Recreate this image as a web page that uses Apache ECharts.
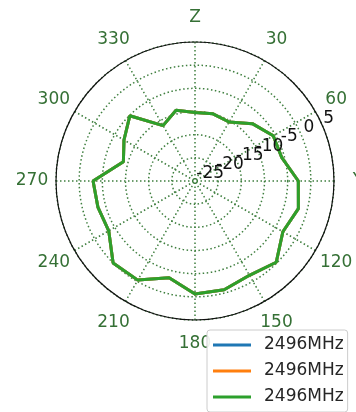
<!DOCTYPE html>
<html>
<head>
<meta charset="utf-8">
<script src="https://cdn.jsdelivr.net/npm/echarts@6/dist/echarts.min.js"></script>
<style>
html,body{margin:0;padding:0;background:#fff;}
#chart{width:356px;height:412px;}
</style>
</head>
<body>
<div id="chart"></div>
<script>
// Angles (degrees, clockwise from top) and measured gain (dB)
const angles = [0,15,30,45,60,75,90,105,120,135,150,165,180,195,210,225,240,255,270,285,300,315,330,345];
const gain = [-10.2,-10.0,-10.3,-7.5,-5.5,-5.6,-2.7,-1.9,-3.1,-0.2,-1.5,-0.7,-0.6,-3.4,-0.3,0.0,-3.5,-3.3,-3.0,-9.0,-7.3,-5.1,-11.2,-9.2];
const seriesNames = ['s1','s2','s3'];
const legendLabels = ['2496MHz','2496MHz','2496MHz'];
const seriesColors = ['#1f77b4','#ff7f0e','#2ca02c'];
const angleTicks = [0,30,60,90,120,150,180,210,240,270,300,330];
const angleTickLabels = ['Z','30','60','Y','120','150','180','210','240','270','300','330'];
const radiusTicks = [-25,-20,-15,-10,-5,0,5];
const radiusTickLabels = ['-25','-20','-15','-10','-5','0','5'];
const rMin = -25, rMax = 5, rStep = 5;
const radialLabelAngle = 65;

const pts = angles.map((a,i)=>[gain[i], a]);
pts.push([gain[0], 360]);

const gridColor = '#3f7f3f';
const font = 'DejaVu Sans';
const hiddenAngle = (idx)=>({polarIndex:idx, type:'value', min:0, max:360, startAngle:90, clockwise:true,
  axisLine:{show:false}, axisTick:{show:false}, axisLabel:{show:false}, splitLine:{show:false}});
const hiddenRadius = (idx,mn,mx)=>({polarIndex:idx, type:'value', min:mn, max:mx,
  axisLine:{show:false}, axisTick:{show:false}, axisLabel:{show:false}, splitLine:{show:false}});

const chart = echarts.init(document.getElementById('chart'), null, {renderer:'canvas'});
chart.setOption({
  backgroundColor:'#fff',
  animation:false,
  polar:[
    {center:[195,181], radius:139},
    {center:[195,181], radius:[16.8,147.6]},
    {center:[195,181], radius:163}
  ],
  angleAxis:[
    {
      polarIndex:0, type:'value', min:0, max:360, interval:30,
      startAngle:90, clockwise:true,
      axisLine:{show:true, lineStyle:{color:'#111', width:1.2}},
      axisTick:{show:false},
      axisLabel:{show:false},
      splitLine:{show:true, lineStyle:{color:gridColor, width:1.5, type:[1.5,2.5]}}
    },
    hiddenAngle(1),
    hiddenAngle(2)
  ],
  radiusAxis:[
    {
      polarIndex:0, type:'value', min:rMin, max:rMax, interval:rStep,
      axisLine:{show:false}, axisTick:{show:false}, axisLabel:{show:false},
      splitLine:{show:true, lineStyle:{color:gridColor, width:1.5, type:[1.5,2.5]}}
    },
    hiddenRadius(1, rMin, rMax),
    hiddenRadius(2, 0, 1)
  ],
  legend:{
    orient:'vertical', left:207, top:330,
    data:seriesNames,
    icon:'rect', itemWidth:38, itemHeight:3, itemGap:6,
    padding:[5,4,5,6],
    backgroundColor:'rgba(255,255,255,0.9)',
    borderColor:'#cccccc', borderWidth:1, borderRadius:3,
    textStyle:{color:'#262626', fontSize:17, fontFamily:font, lineHeight:20, padding:[0,0,0,8]},
    formatter:name=> legendLabels[seriesNames.indexOf(name)]
  },
  series: seriesNames.map((n,i)=>({
    name:n, type:'line', coordinateSystem:'polar', polarIndex:0,
    data:pts, showSymbol:false, symbol:'none',
    lineStyle:{color:seriesColors[i], width:3},
    itemStyle:{color:seriesColors[i]},
    z:2+i
  })).concat([
    {
      type:'scatter', coordinateSystem:'polar', polarIndex:1, symbolSize:0, silent:true,
      data: radiusTicks.map((v,i)=>({value:[v, radialLabelAngle], label:{formatter:radiusTickLabels[i]}})),
      label:{show:true, position:'inside', align:'center', verticalAlign:'middle',
        color:'#111111', textBorderWidth:0, opacity:1, fontSize:17, fontFamily:font},
      z:5
    },
    {
      type:'scatter', coordinateSystem:'polar', polarIndex:2, symbolSize:0, silent:true,
      data: angleTicks.map((a,i)=>({value:[1, a], label:{formatter:angleTickLabels[i]}})),
      label:{show:true, position:'inside', align:'center', verticalAlign:'middle',
        color:'#357035', textBorderWidth:0, opacity:1, fontSize:17, fontFamily:font},
      z:1
    }
  ])
});
</script>
</body>
</html>
